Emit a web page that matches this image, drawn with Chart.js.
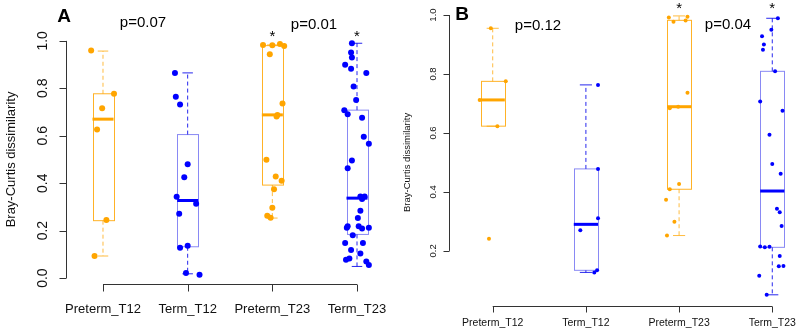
<!DOCTYPE html>
<html>
<head>
<meta charset="utf-8">
<script src="https://cdn.jsdelivr.net/npm/chart.js@4"></script>
<style>
  body { margin: 0; background: #fff; }
  .wrap { display: flex; width: 800px; height: 334px; }
  .panel { position: relative; width: 400px; height: 334px; }
</style>
</head>
<body>
<div class="wrap">
  <div class="panel"><canvas id="panelA"></canvas></div>
  <div class="panel"><canvas id="panelB"></canvas></div>
</div>
<script>
// categories
const groups = ['Preterm_T12', 'Term_T12', 'Preterm_T23', 'Term_T23'];
const groupColors = ['orange', 'blue', 'orange', 'blue'];

// Panel A values and their horizontal jitter (category units)
const aPretermT12 = [0.959, 0.777, 0.716, 0.626, 0.245, 0.093];
const aPretermT12Jit = [-0.14, 0.13, -0.01, -0.07, 0.04, -0.10];
const aTermT12 = [0.865, 0.764, 0.732, 0.48, 0.425, 0.343, 0.271, 0.313, 0.128, 0.136, 0.021, 0.014];
const aTermT12Jit = [-0.15, -0.14, -0.09, 0, -0.04, -0.13, -0.10, 0.10, -0.09, 0, -0.02, 0.14];
const aPretermT23 = [0.983, 0.982, 0.987, 0.978, 0.944, 0.736, 0.688, 0.681, 0.499, 0.428, 0.41, 0.374, 0.296, 0.263, 0.254];
const aPretermT23Jit = [-0.11, 0, 0.09, 0.14, -0.03, 0.12, 0.06, 0.05, -0.07, 0.04, 0.11, 0.02, 0, -0.06, -0.02];
const aTermT23 = [0.99, 0.951, 0.93, 0.899, 0.882, 0.865, 0.808, 0.751, 0.708, 0.691, 0.676, 0.596, 0.566, 0.496, 0.463,
  0.344, 0.333, 0.344, 0.284, 0.253, 0.219, 0.212, 0.218, 0.209, 0.212, 0.181, 0.148, 0.148, 0.118, 0.104, 0.082, 0.077, 0.07, 0.055];
const aTermT23Jit = [-0.06, -0.07, -0.06, -0.14, -0.07, 0.11, -0.04, -0.01, -0.15, -0.11, 0.06, 0.08, 0.14, -0.06, -0.11,
  0.04, 0.06, 0.09, 0.04, 0.01, -0.11, -0.12, 0.02, 0.06, 0.14, -0.05, -0.14, 0.07, -0.07, 0.04, -0.09, -0.13, 0.11, 0.14];
// box stats: [lower whisker, Q1, median, Q3, upper whisker]
const aBoxes = [
  [0.093, 0.242, 0.67, 0.777, 0.957],
  [0.018, 0.132, 0.327, 0.605, 0.865],
  [0.253, 0.392, 0.688, 0.98, 0.983],
  [0.049, 0.184, 0.337, 0.708, 0.99]
];
const aTicks = [0, 0.2, 0.4, 0.6, 0.8, 1.0];
const aPvalues = ['p=0.07', 'p=0.01'];

// Panel B
const bPretermT12 = [0.955, 0.775, 0.712, 0.623, 0.241];
const bPretermT12Jit = [-0.02, 0.14, -0.14, 0.05, -0.04];
const bTermT12 = [0.763, 0.478, 0.311, 0.27, 0.134, 0.127];
const bTermT12Jit = [0.13, 0.13, 0.13, -0.06, 0.12, 0.09];
const bPretermT23 = [0.992, 0.994, 0.977, 0.981, 0.736, 0.684, 0.689, 0.427, 0.409, 0.373, 0.299, 0.252];
const bPretermT23Jit = [-0.11, 0.09, -0.06, 0.07, 0.09, -0.10, -0.01, 0, -0.10, -0.14, -0.05, -0.13];
const bTermT23 = [0.989, 0.95, 0.928, 0.9, 0.882, 0.809, 0.707, 0.675, 0.594, 0.495, 0.462, 0.343, 0.331, 0.284,
  0.215, 0.212, 0.214, 0.183, 0.148, 0.149, 0.116, 0.051];
const bTermT23Jit = [0.06, -0.01, -0.11, -0.09, -0.10, 0.03, -0.13, 0.11, -0.03, 0, 0.09, 0.05, 0.08, 0.10,
  -0.13, -0.08, -0.03, 0.08, 0.07, 0.12, -0.14, -0.06];
const bBoxes = [
  [0.623, 0.623, 0.712, 0.775, 0.955],
  [0.127, 0.134, 0.29, 0.478, 0.763],
  [0.252, 0.409, 0.689, 0.982, 0.997],
  [0.051, 0.212, 0.403, 0.809, 0.989]
];
const bTicks = [0.2, 0.4, 0.6, 0.8, 1.0];
const bPvalues = ['p=0.12', 'p=0.04'];

const palette = {
  orange: { point: '#FFA500', box: 'rgba(255,165,0,0.85)', whisker: 'rgba(255,165,0,0.75)' },
  blue: { point: '#0000FF', box: 'rgba(40,40,235,0.55)', whisker: 'rgba(0,0,235,0.85)' }
};

function makeDatasets(seriesList, jitterList, radius) {
  return seriesList.map((vals, i) => ({
    label: groups[i],
    data: vals.map((v, k) => ({ x: i + 1 + jitterList[i][k], y: v })),
    backgroundColor: palette[groupColors[i]].point,
    borderWidth: 0,
    pointRadius: radius,
    pointHoverRadius: radius
  }));
}

// Boxes, whiskers, axes and labels in the R boxplot style
function boxPlugin(cfg) {
  return {
    id: 'rbox',
    beforeDatasetsDraw(chart) {
      const ctx = chart.ctx;
      const xs = chart.scales.x, ys = chart.scales.y;
      const area = chart.chartArea;
      ctx.save();
      cfg.boxes.forEach((b, i) => {
        const c = palette[groupColors[i]];
        const cx = xs.getPixelForValue(i + 1);
        const hw = xs.getPixelForValue(i + 1 + cfg.halfWidth) - cx;
        const [lo, q1, med, q3, hi] = b.map(v => ys.getPixelForValue(v));
        // whiskers
        ctx.strokeStyle = c.whisker;
        ctx.lineWidth = 1;
        ctx.setLineDash([4, 3]);
        ctx.beginPath();
        ctx.moveTo(cx, q3); ctx.lineTo(cx, hi);
        ctx.moveTo(cx, q1); ctx.lineTo(cx, lo);
        ctx.stroke();
        ctx.setLineDash([]);
        ctx.beginPath();
        ctx.moveTo(cx - hw / 2, hi); ctx.lineTo(cx + hw / 2, hi);
        ctx.moveTo(cx - hw / 2, lo); ctx.lineTo(cx + hw / 2, lo);
        ctx.stroke();
        // box
        ctx.strokeStyle = c.box;
        ctx.strokeRect(Math.round(cx - hw) + 0.5, q3, Math.round(2 * hw), q1 - q3);
        // median
        ctx.strokeStyle = c.point;
        ctx.lineWidth = 3;
        ctx.beginPath();
        ctx.moveTo(cx - hw, med); ctx.lineTo(cx + hw, med);
        ctx.stroke();
      });

      // axes
      ctx.strokeStyle = '#333';
      ctx.lineWidth = 1;
      const t0 = ys.getPixelForValue(cfg.ticks[0]);
      const t1 = ys.getPixelForValue(cfg.ticks[cfg.ticks.length - 1]);
      const ax = Math.round(area.left) + 0.5;
      ctx.beginPath();
      ctx.moveTo(ax, t0); ctx.lineTo(ax, t1);
      cfg.ticks.forEach(t => {
        const y = Math.round(ys.getPixelForValue(t)) + 0.5;
        ctx.moveTo(ax, y); ctx.lineTo(ax - cfg.tickLen, y);
      });
      const by = Math.round(area.bottom) + 0.5;
      const g0 = xs.getPixelForValue(1), g1 = xs.getPixelForValue(groups.length);
      ctx.moveTo(g0, by); ctx.lineTo(g1, by);
      groups.forEach((g, i) => {
        const x = Math.round(xs.getPixelForValue(i + 1)) + 0.5;
        ctx.moveTo(x, by); ctx.lineTo(x, by + cfg.tickLen);
      });
      ctx.stroke();

      ctx.fillStyle = '#111';
      ctx.textAlign = 'center';
      ctx.textBaseline = 'middle';
      ctx.font = cfg.tickFont + 'px "Liberation Sans", Arial, sans-serif';
      cfg.ticks.forEach(t => {
        ctx.save();
        ctx.translate(cfg.tickLabelX, ys.getPixelForValue(t));
        ctx.rotate(-Math.PI / 2);
        ctx.fillText(t.toFixed(1), 0, 0);
        ctx.restore();
      });
      ctx.font = cfg.titleFont + 'px "Liberation Sans", Arial, sans-serif';
      ctx.save();
      ctx.translate(cfg.titleX, ys.getPixelForValue(0.5));
      ctx.rotate(-Math.PI / 2);
      ctx.fillText('Bray-Curtis dissimilarity', 0, 0);
      ctx.restore();
      ctx.font = cfg.catFont + 'px "Liberation Sans", Arial, sans-serif';
      groups.forEach((g, i) => {
        ctx.fillText(g, xs.getPixelForValue(i + 1), cfg.catY);
      });
      ctx.restore();
    },
    afterDraw(chart) {
      const ctx = chart.ctx;
      const xs = chart.scales.x;
      ctx.save();
      ctx.fillStyle = '#000';
      ctx.textAlign = 'center';
      ctx.textBaseline = 'middle';
      ctx.font = 'bold 19px "Liberation Sans", Arial, sans-serif';
      ctx.fillText(cfg.letter, cfg.letterPos[0], cfg.letterPos[1]);
      ctx.font = '15px "Liberation Sans", Arial, sans-serif';
      ctx.fillText(cfg.pvalues[0], cfg.pPos[0][0], cfg.pPos[0][1]);
      ctx.fillText(cfg.pvalues[1], cfg.pPos[1][0], cfg.pPos[1][1]);
      ctx.font = '15px "Liberation Sans", Arial, sans-serif';
      ctx.fillText('*', xs.getPixelForValue(3), cfg.starY);
      ctx.fillText('*', xs.getPixelForValue(4), cfg.starY);
      ctx.restore();
    }
  };
}

function makeChart(id, datasets, cfg) {
  return new Chart(document.getElementById(id), {
    type: 'scatter',
    data: { datasets: datasets },
    options: {
      responsive: false,
      animation: false,
      layout: { padding: cfg.padding },
      plugins: { legend: { display: false }, tooltip: { enabled: false } },
      scales: {
        x: { type: 'linear', display: false, min: cfg.xMin, max: cfg.xMax },
        y: { type: 'linear', display: false, min: cfg.yMin, max: cfg.yMax }
      }
    },
    plugins: [boxPlugin(cfg)]
  });
}

const canvasA = document.getElementById('panelA');
canvasA.width = 400; canvasA.height = 334;
const canvasB = document.getElementById('panelB');
canvasB.width = 400; canvasB.height = 334;

makeChart('panelA',
  makeDatasets([aPretermT12, aTermT12, aPretermT23, aTermT23],
    [aPretermT12Jit, aTermT12Jit, aPretermT23Jit, aTermT23Jit], 3),
  {
    padding: { left: 66, right: 6, top: 34, bottom: 50 },
    xMin: 0.563, xMax: 4.437, yMin: -0.025, yMax: 1.029,
    boxes: aBoxes, ticks: aTicks, halfWidth: 0.124, tickLen: 7,
    tickFont: 14, tickLabelX: 43, titleFont: 13, titleX: 11,
    catFont: 13, catY: 309,
    letter: 'A', letterPos: [64, 17], pvalues: aPvalues,
    pPos: [[143, 23], [314, 25]], starY: 37
  });

makeChart('panelB',
  makeDatasets([bPretermT12, bTermT12, bPretermT23, bTermT23],
    [bPretermT12Jit, bTermT12Jit, bPretermT23Jit, bTermT23Jit], 2),
  {
    padding: { left: 49, right: 2, top: 5, bottom: 28 },
    xMin: 0.531, xMax: 4.276, yMin: 0.013, yMax: 1.034,
    boxes: bBoxes, ticks: bTicks, halfWidth: 0.13, tickLen: 6,
    tickFont: 9.5, tickLabelX: 33, titleFont: 9.5, titleX: 7,
    catFont: 10.5, catY: 323,
    letter: 'B', letterPos: [62, 15], pvalues: bPvalues,
    pPos: [[138, 26], [328, 25]], starY: 9
  });
</script>
</body>
</html>
